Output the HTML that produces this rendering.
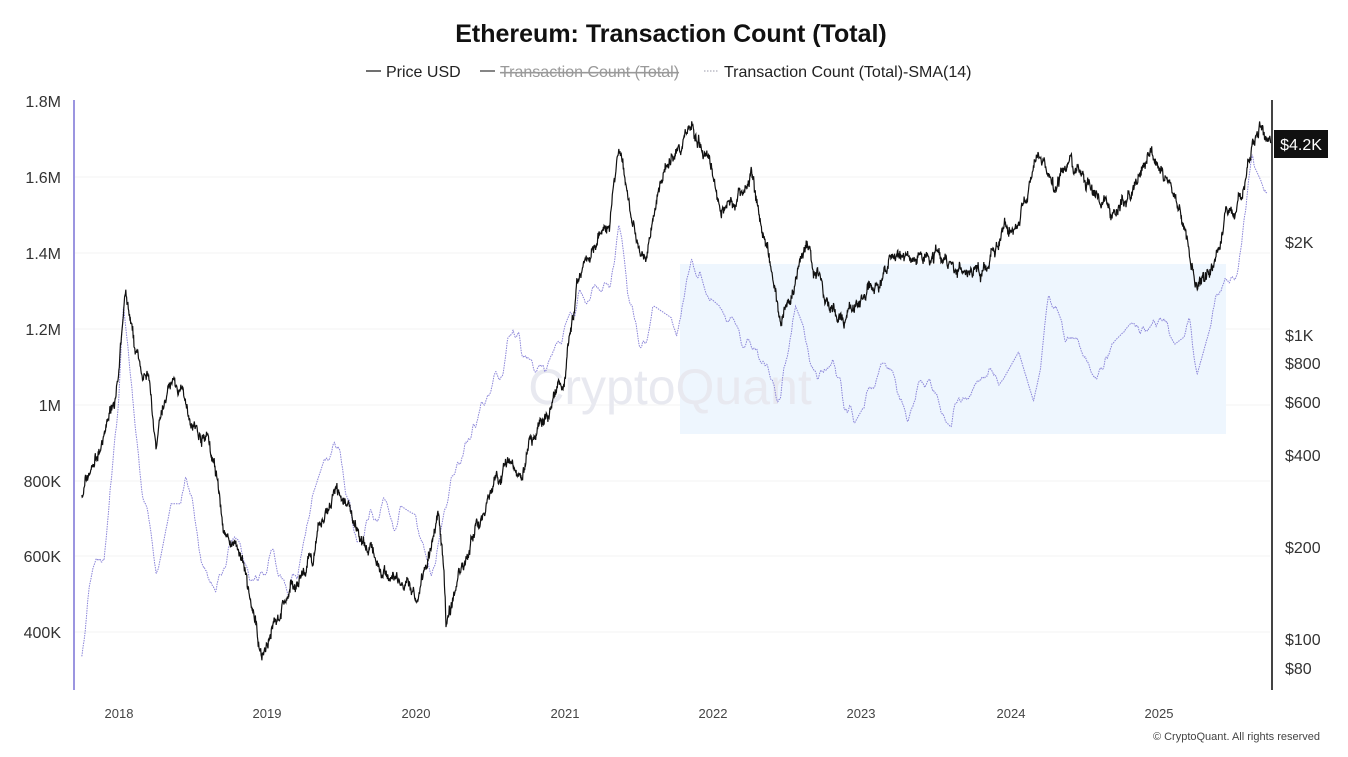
<!DOCTYPE html>
<html><head><meta charset="utf-8"><style>
body{margin:0;background:#fff;font-family:"Liberation Sans",sans-serif;}
svg text{font-family:"Liberation Sans",sans-serif;}
</style></head><body>
<svg id="s" width="1348" height="752" xmlns="http://www.w3.org/2000/svg">
<rect width="1348" height="752" fill="#fff"/>
<text x="671" y="42" text-anchor="middle" font-size="25" font-weight="bold" fill="#111">Ethereum: Transaction Count (Total)</text>
<g font-size="16" fill="#222">
<line x1="366" y1="71" x2="381" y2="71" stroke="#222" stroke-width="1.3"/>
<text x="386" y="77">Price USD</text>
<line x1="480" y1="71" x2="495" y2="71" stroke="#444" stroke-width="1.3"/>
<text x="500" y="77" fill="#999" text-decoration="line-through">Transaction Count (Total)</text>
<line x1="704" y1="71" x2="719" y2="71" stroke="#99a" stroke-width="1" stroke-dasharray="1.5,1.5"/>
<text x="724" y="77">Transaction Count (Total)-SMA(14)</text>
</g>
<g stroke="#f3f3f3" stroke-width="1">
<line x1="75" y1="177" x2="1270" y2="177"/><line x1="75" y1="253" x2="1270" y2="253"/>
<line x1="75" y1="329" x2="1270" y2="329"/><line x1="75" y1="405" x2="1270" y2="405"/>
<line x1="75" y1="481" x2="1270" y2="481"/><line x1="75" y1="556" x2="1270" y2="556"/>
<line x1="75" y1="632" x2="1270" y2="632"/>
</g>
<rect x="680" y="264" width="546" height="170" fill="#eef6fe"/>
<text x="670" y="404" text-anchor="middle" font-size="50" fill="#e8e9f0">CryptoQuant</text>
<line x1="74" y1="100" x2="74" y2="690" stroke="#9b95e0" stroke-width="2"/>
<line x1="1272" y1="100" x2="1272" y2="690" stroke="#444" stroke-width="2"/>
<g font-size="16" fill="#333" text-anchor="end">
<text x="61" y="107">1.8M</text><text x="61" y="183">1.6M</text><text x="61" y="259">1.4M</text>
<text x="61" y="335">1.2M</text><text x="61" y="411">1M</text><text x="61" y="487">800K</text>
<text x="61" y="562">600K</text><text x="61" y="638">400K</text>
</g>
<g font-size="16" fill="#333">
<text x="1285" y="248">$2K</text><text x="1285" y="341">$1K</text><text x="1285" y="369">$800</text>
<text x="1285" y="408">$600</text><text x="1285" y="461">$400</text><text x="1285" y="553">$200</text>
<text x="1285" y="645">$100</text><text x="1285" y="674">$80</text>
</g>
<g font-size="13" fill="#444" text-anchor="middle">
<text x="119" y="718">2018</text><text x="267" y="718">2019</text><text x="416" y="718">2020</text>
<text x="565" y="718">2021</text><text x="713" y="718">2022</text><text x="861" y="718">2023</text>
<text x="1011" y="718">2024</text><text x="1159" y="718">2025</text>
</g>
<text x="1320" y="740" text-anchor="end" font-size="11" fill="#444">© CryptoQuant. All rights reserved</text>
<g id="series"></g>
<rect x="1274" y="130" width="54" height="28" fill="#111"/>
<text x="1301" y="150" text-anchor="middle" font-size="16" fill="#fff">$4.2K</text>
</svg>
<script>
var seed=7;function rnd(){seed=(seed*16807)%2147483647;return seed/2147483647;}
function X(t){return 119+(t-2018)*148.7;}
function interp(pts,t){for(var i=0;i<pts.length-1;i++){if(t<=pts[i+1][0]){var a=pts[i],b=pts[i+1],f=(t-a[0])/(b[0]-a[0]);return a[1]+(b[1]-a[1])*f;}}return pts[pts.length-1][1];}
var P=[[2017.75,300],[2017.9,450],[2018.0,750],[2018.04,1300],[2018.1,850],[2018.2,700],[2018.25,400],[2018.35,700],[2018.45,600],[2018.55,450],[2018.6,450],[2018.7,220],[2018.8,200],[2018.9,110],[2018.96,85],[2019.1,130],[2019.3,170],[2019.45,300],[2019.5,290],[2019.6,220],[2019.75,180],[2019.9,150],[2020.0,130],[2020.15,260],[2020.2,110],[2020.35,200],[2020.6,380],[2020.7,360],[2020.9,550],[2021.0,730],[2021.1,1600],[2021.3,2500],[2021.36,4000],[2021.45,2300],[2021.55,1900],[2021.65,3300],[2021.85,4600],[2021.95,3900],[2022.05,2500],[2022.25,3400],[2022.35,2000],[2022.45,1100],[2022.55,1500],[2022.62,1900],[2022.75,1300],[2022.85,1200],[2022.95,1200],[2023.1,1600],[2023.25,1900],[2023.35,1800],[2023.5,1900],[2023.7,1600],[2023.8,1600],[2023.9,2100],[2024.05,2300],[2024.2,3900],[2024.3,3200],[2024.4,3700],[2024.6,2500],[2024.7,2400],[2024.85,3300],[2024.95,3900],[2025.05,3300],[2025.15,2300],[2025.25,1500],[2025.35,1800],[2025.45,2500],[2025.55,2700],[2025.6,3700],[2025.67,4700],[2025.72,4300],[2025.75,4200]];
var T=[[2017.75,340],[2017.8,480],[2017.9,600],[2018.0,1000],[2018.03,1200],[2018.1,950],[2018.2,700],[2018.25,600],[2018.35,800],[2018.45,800],[2018.55,650],[2018.65,560],[2018.75,650],[2018.85,560],[2019.0,560],[2019.2,560],[2019.3,700],[2019.45,880],[2019.5,840],[2019.6,700],[2019.8,700],[2019.95,660],[2020.05,640],[2020.1,600],[2020.3,850],[2020.5,1000],[2020.65,1200],[2020.75,1100],[2020.9,1120],[2021.0,1150],[2021.1,1250],[2021.25,1300],[2021.36,1450],[2021.42,1250],[2021.5,1180],[2021.6,1200],[2021.75,1160],[2021.85,1370],[2021.95,1230],[2022.1,1180],[2022.3,1150],[2022.45,1000],[2022.55,1200],[2022.7,1050],[2022.8,1100],[2022.9,980],[2023.0,1050],[2023.2,1050],[2023.3,1000],[2023.45,1060],[2023.6,1000],[2023.7,980],[2023.8,1050],[2023.95,1130],[2024.05,1200],[2024.15,1070],[2024.25,1250],[2024.35,1150],[2024.5,1150],[2024.6,1120],[2024.65,1090],[2024.75,1130],[2024.9,1200],[2025.0,1290],[2025.1,1220],[2025.2,1250],[2025.25,1140],[2025.35,1280],[2025.45,1350],[2025.55,1400],[2025.62,1700],[2025.68,1650],[2025.72,1600]];
var pp=[],tp=[],n1=0,n2=0,v2=0;
for(var t=2017.75;t<=2025.75;t+=1/365){
 n1=n1*0.93+(rnd()-0.5)*0.06;
 var p=interp(P,t)*Math.exp(n1+(rnd()-0.5)*0.05);
 pp.push(X(t).toFixed(1)+","+(639-304*Math.log10(p/100)).toFixed(1));
 if(t<=2025.72){v2=v2*0.9+(rnd()-0.5)*6;n2=n2*0.96+v2;n2*=0.995;
 var v=interp(T,t)+Math.max(-60,Math.min(60,n2));
 tp.push(X(t).toFixed(1)+","+(405-(v-1000)*0.38).toFixed(1));}
}
document.getElementById("series").innerHTML='<polyline points="'+tp.join(" ")+'" fill="none" stroke="#8a84d8" stroke-width="1" stroke-dasharray="1.5,1"/><polyline points="'+pp.join(" ")+'" fill="none" stroke="#111" stroke-width="1.2"/>';
</script>
</body></html>
